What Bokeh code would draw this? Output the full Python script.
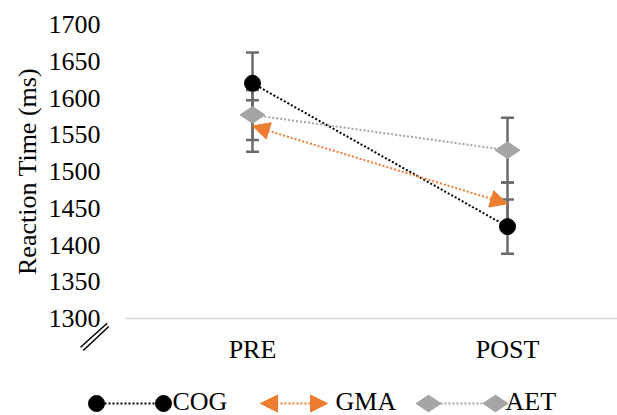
from bokeh.plotting import figure
from bokeh.models import (ColumnDataSource, Range1d, FixedTicker, Whisker, TeeHead,
                          Arrow, NormalHead)
from bokeh.core.properties import value
from bokeh.embed import file_html
from bokeh.resources import INLINE

# ---- data ----
phases = ["PRE", "POST"]
phase_x = [1, 2]
groups = ["COG", "GMA", "AET"]
cog = [1620, 1425]
cog_err = [42, 37]
gma = [1562, 1456]
gma_err = [35, 29]
aet = [1577, 1529]
aet_err = [34, 44]
y_ticks = [1300, 1350, 1400, 1450, 1500, 1550, 1600, 1650, 1700]

FONT = "Liberation Serif, serif"
C_COG = "#000000"
C_GMA = "#ED7D31"
C_AET = "#A5A5A5"
C_ERR = "#6B6B6B"

# ---- layout (pixels of the 617x415 picture) ----
W, H = 617, 415
PLOT_L, PLOT_T, PLOT_B = 125, 24, 318      # plot-area edges
PX_PER_CAT = 255                           # pixels between PRE and POST
PRE_PX = 252                               # pixel column of PRE
Y_LO, Y_HI = 1300, 1700
px_per_y = (PLOT_B - PLOT_T) / (Y_HI - Y_LO)

x_start = phase_x[0] - PRE_PX / PX_PER_CAT
x_end = phase_x[0] + (W - PRE_PX) / PX_PER_CAT
x_axis_at = phase_x[0] - (PRE_PX - PLOT_L) / PX_PER_CAT
y_end = Y_HI + PLOT_T / px_per_y
y_start = Y_LO - (H - PLOT_B) / px_per_y

p = figure(width=W, height=H, output_backend="svg", toolbar_location=None,
           x_range=Range1d(x_start, x_end), y_range=Range1d(y_start, y_end),
           min_border=0, min_border_left=0, min_border_right=0,
           min_border_top=0, min_border_bottom=0, title=None)
p.outline_line_color = None
p.xgrid.visible = False
p.ygrid.visible = False
# pixel ranges for decorations (legend, axis-break mark)
p.extra_x_ranges = {"px": Range1d(0, W)}
p.extra_y_ranges = {"py": Range1d(H, 0)}

# y axis
yax = p.yaxis[0]
yax.fixed_location = x_axis_at
yax.bounds = (Y_LO, Y_HI)
yax.ticker = FixedTicker(ticks=y_ticks)
yax.axis_line_color = None
yax.major_tick_line_color = None
yax.minor_tick_line_color = None
yax.major_label_standoff = 19
yax.major_label_text_font = FONT
yax.major_label_text_font_size = "26px"
yax.major_label_text_color = "#000000"
yax.axis_label = "Reaction Time (ms)"
yax.axis_label_text_font = FONT
yax.axis_label_text_font_size = "26px"
yax.axis_label_text_font_style = "normal"
yax.axis_label_text_color = "#000000"
yax.axis_label_standoff = 4

# x axis
xax = p.xaxis[0]
xax.fixed_location = Y_LO
xax.bounds = (x_axis_at, x_end)
xax.ticker = FixedTicker(ticks=phase_x)
xax.major_label_overrides = {x: lab for x, lab in zip(phase_x, phases)}
xax.axis_line_color = "#D9D9D9"
xax.axis_line_width = 1.5
xax.major_tick_line_color = None
xax.minor_tick_line_color = None
xax.major_label_standoff = 10
xax.major_label_text_font = FONT
xax.major_label_text_font_size = "26px"
xax.major_label_text_color = "#000000"

# error bars (drawn beneath lines and markers)
for vals, errs in [(cog, cog_err), (gma, gma_err), (aet, aet_err)]:
    src = ColumnDataSource(dict(x=phase_x,
                                lo=[v - e for v, e in zip(vals, errs)],
                                hi=[v + e for v, e in zip(vals, errs)]))
    p.add_layout(Whisker(source=src, base="x", lower="lo", upper="hi", dimension="height",
                         line_color=C_ERR, line_width=2.5, level="underlay",
                         upper_head=TeeHead(size=13, line_color=C_ERR, line_width=2.5),
                         lower_head=TeeHead(size=13, line_color=C_ERR, line_width=2.5)))

# COG
p.line(phase_x, cog, line_color=C_COG, line_width=2, line_dash="2 2")
# GMA (arrow heads at both ends)
p.add_layout(Arrow(x_start=phase_x[0], y_start=gma[0], x_end=phase_x[1], y_end=gma[1],
                   line_color=C_GMA, line_width=2, line_dash="2 2",
                   start=NormalHead(size=17, fill_color=C_GMA, line_color=C_GMA, line_width=1),
                   end=NormalHead(size=17, fill_color=C_GMA, line_color=C_GMA, line_width=1)))
# AET
p.line(phase_x, aet, line_color=C_AET, line_width=2, line_dash="2 2")
p.scatter(phase_x, aet, marker="diamond", size=25, angle=1.5708,
          fill_color=C_AET, line_color=C_AET)
p.scatter(phase_x, cog, marker="circle", size=16, fill_color=C_COG, line_color=C_COG)

# axis-break mark "//" below the 1300 label
p.segment(x0=[80, 82.7], y0=[346.7, 350], x1=[106.7, 108.3], y1=[322.7, 326],
          line_color="black", line_width=1.5, x_range_name="px", y_range_name="py")

# ---- legend ----
LY = 403
p.line([96, 163], [LY, LY], line_color=C_COG, line_width=2, line_dash="2 2",
       x_range_name="px", y_range_name="py")
p.scatter([96, 163], [LY, LY], marker="circle", size=16, fill_color=C_COG,
          line_color=C_COG, x_range_name="px", y_range_name="py")
p.add_layout(Arrow(x_start=260, y_start=LY, x_end=327, y_end=LY,
                   x_range_name="px", y_range_name="py",
                   line_color=C_GMA, line_width=2, line_dash="2 2",
                   start=NormalHead(size=17, fill_color=C_GMA, line_color=C_GMA, line_width=1),
                   end=NormalHead(size=17, fill_color=C_GMA, line_color=C_GMA, line_width=1)))
p.line([428, 495], [LY, LY], line_color=C_AET, line_width=2, line_dash="2 2",
       x_range_name="px", y_range_name="py")
p.scatter([428, 495], [LY, LY], marker="diamond", size=25, angle=1.5708,
          fill_color=C_AET, line_color=C_AET, x_range_name="px", y_range_name="py")
p.text(x=[172, 335, 505], y=[401, 401, 401], text=groups, text_font=value(FONT),
       text_font_size="26px", text_baseline="middle", text_align="left",
       text_color="#000000", x_range_name="px", y_range_name="py")

open("out.html", "w").write(file_html(p, INLINE))
